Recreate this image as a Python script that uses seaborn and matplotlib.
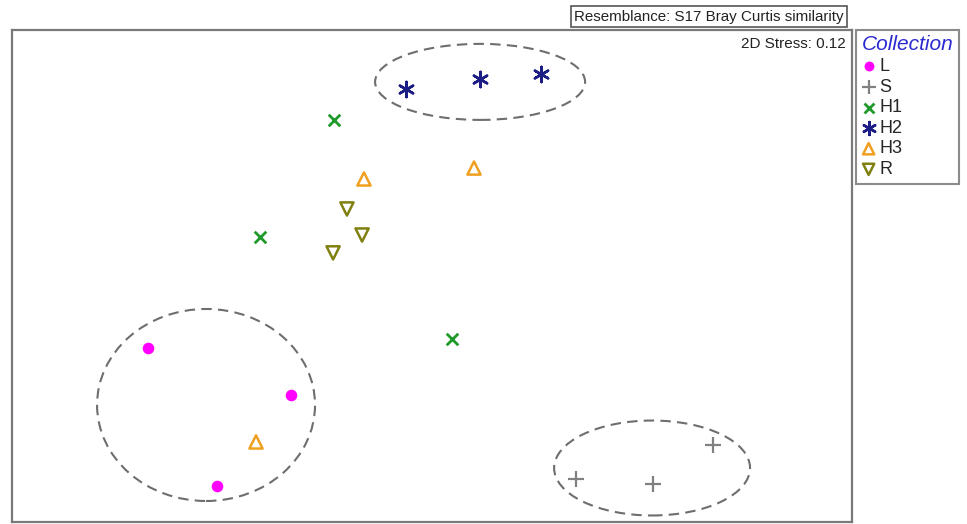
import matplotlib
matplotlib.use("Agg")
import matplotlib.pyplot as plt
import numpy as np
import pandas as pd
import seaborn as sns
from matplotlib.patches import Ellipse

# NMDS ordination coordinates
L_X = [-1.352, -0.671, -1.024]
L_Y = [-0.343, -0.567, -1.000]
S_X = [0.686, 1.052, 1.338]
S_Y = [-0.967, -0.990, -0.805]
H1_X = [-0.467, -0.819, 0.095]
H1_Y = [0.743, 0.186, -0.300]
H2_X = [-0.124, 0.229, 0.519]
H2_Y = [0.890, 0.938, 0.962]
H3_X = [-0.324, 0.200, -0.838]
H3_Y = [0.462, 0.514, -0.790]
R_X = [-0.405, -0.333, -0.471]
R_Y = [0.319, 0.195, 0.110]

COLLECTIONS = ["L", "S", "H1", "H2", "H3", "R"]
STRESS = 0.12

# cluster outlines: centre x, centre y, width, height
CLUSTERS = [
    (-1.076, -0.614, 1.038, 0.914),
    (1.048, -0.914, 0.933, 0.452),
    (0.229, 0.924, 1.000, 0.362),
]

STYLE = {
    "L": dict(marker="o", color="#ff00ff", s=70, edgecolor="#ff00ff", linewidth=0),
    "S": dict(marker="+", color="#808080", s=130, linewidth=1.6),
    "H1": dict(marker="x", color="#1f9a2a", s=70, linewidth=2.0),
    "H2": dict(marker=(6, 2, 0), color="#1c1c85", s=120, linewidth=1.8),
    "H3": dict(marker="^", color="#f0a020", s=90, facecolor="none",
               edgecolor="#f0a020", linewidth=1.8),
    "R": dict(marker="v", color="#808010", s=90, facecolor="none",
              edgecolor="#808010", linewidth=1.8),
}

df = pd.concat(
    [
        pd.DataFrame({"x": xs, "y": ys, "Collection": name})
        for name, xs, ys in [
            ("L", L_X, L_Y), ("S", S_X, S_Y), ("H1", H1_X, H1_Y),
            ("H2", H2_X, H2_Y), ("H3", H3_X, H3_Y), ("R", R_X, R_Y),
        ]
    ],
    ignore_index=True,
)

sns.set_style("white")
plt.rcParams["font.family"] = ["Liberation Sans", "DejaVu Sans"]

fig = plt.figure(figsize=(9.67, 5.24), dpi=100)
ax = fig.add_axes([12 / 967, 2 / 524, 840 / 967, 492 / 524])

for cx, cy, w, h in CLUSTERS:
    ax.add_patch(Ellipse((cx, cy), w, h, fill=False, edgecolor="#6e6e6e",
                         linestyle=(0, (5, 3)), linewidth=1.5, zorder=1))

for name in COLLECTIONS:
    sub = df[df["Collection"] == name]
    sns.scatterplot(data=sub, x="x", y="y", ax=ax, label=name, zorder=3,
                    legend=False, **STYLE[name])

ax.set_xlim(-2.0, 2.0)
ax.set_ylim(-1.171, 1.171)
ax.set_xticks([])
ax.set_yticks([])
ax.set_xlabel("")
ax.set_ylabel("")
for sp in ax.spines.values():
    sp.set_visible(True)
    sp.set_color("#7a7a7a")
    sp.set_linewidth(1.6)

ax.text(0.992, 0.985, f"2D Stress: {STRESS}", transform=ax.transAxes,
        ha="right", va="top", fontsize=11, color="#222222")

fig.text(574 / 967, 1 - 16.5 / 524, "Resemblance: S17 Bray Curtis similarity",
         ha="left", va="center", fontsize=10.9, color="#222222",
         bbox=dict(boxstyle="square,pad=0.2", fc="white", ec="#555555", lw=1.2))

handles, labels = ax.get_legend_handles_labels()
leg = fig.legend(handles, labels, loc="upper left",
                 bbox_to_anchor=(856 / 967, 1 - 30 / 524),
                 bbox_transform=fig.transFigure, title="Collection",
                 fontsize=13, frameon=True, fancybox=False, handletextpad=0.2,
                 handlelength=0.8, labelspacing=0.2, borderpad=0.3,
                 borderaxespad=0, alignment="left", markerscale=0.85)
leg.get_frame().set_edgecolor("#6e6e6e")
leg.get_frame().set_linewidth(1.5)
leg.get_title().set_fontsize(15)
leg.get_title().set_fontstyle("italic")
leg.get_title().set_color("#2a2ad0")

fig.savefig("out.png", dpi=100)
